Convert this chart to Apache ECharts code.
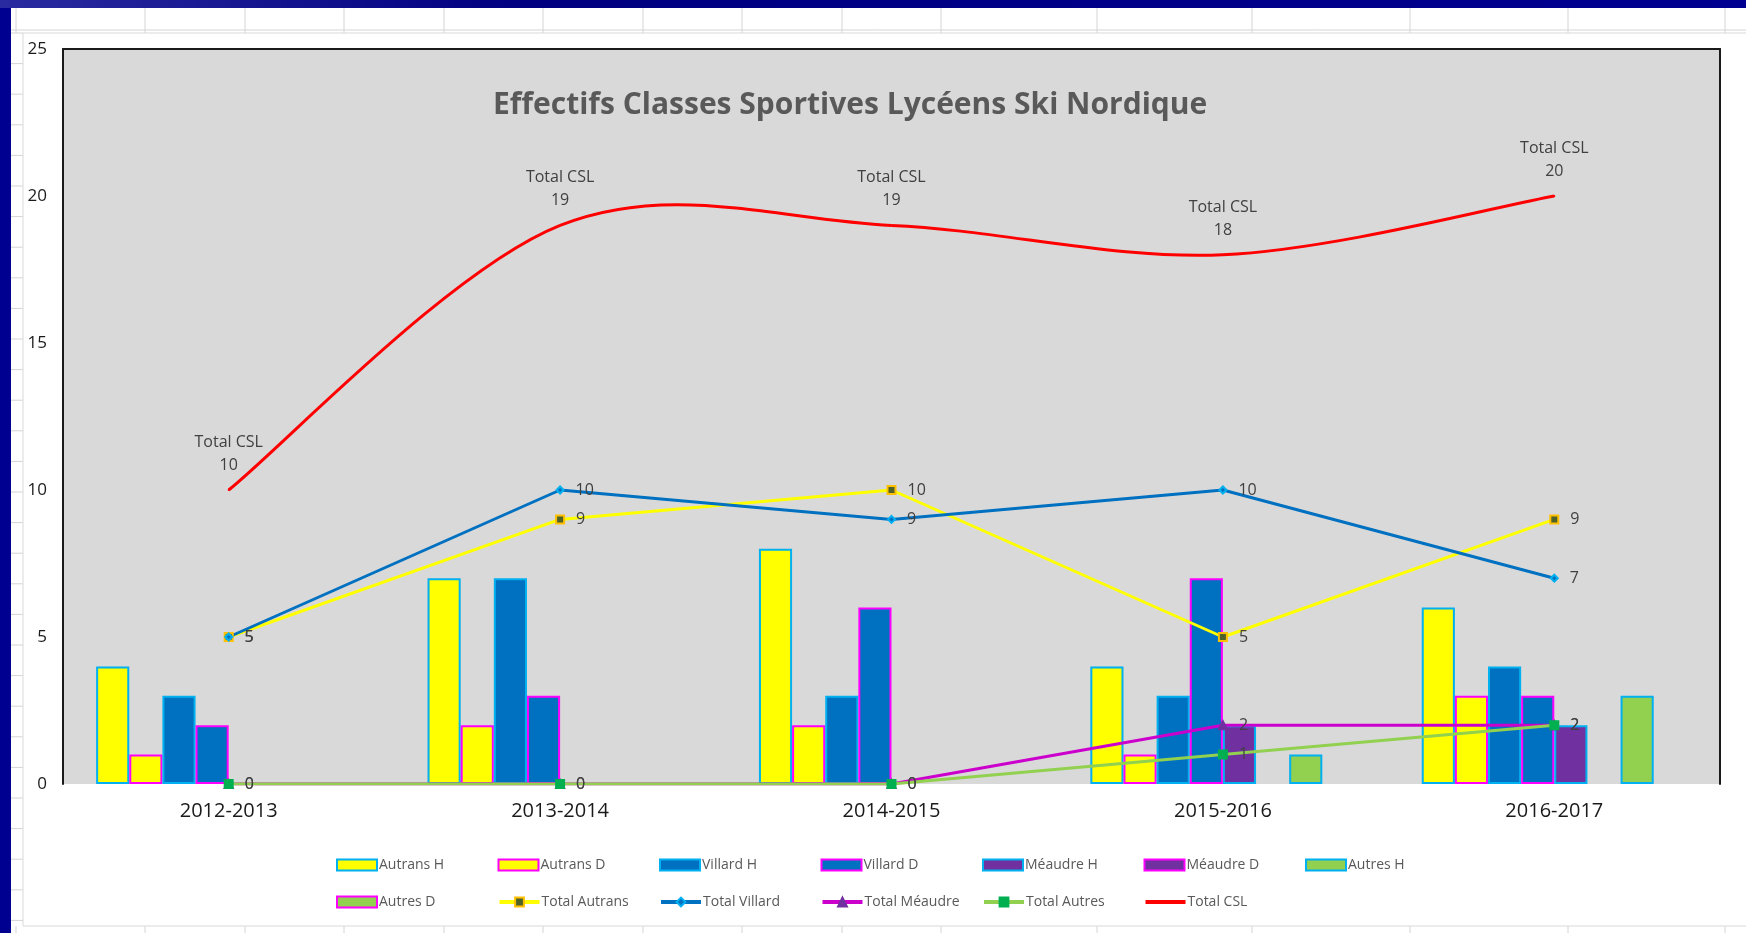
<!DOCTYPE html>
<html>
<head>
<meta charset="utf-8">
<title>Effectifs Classes Sportives Lycéens Ski Nordique</title>
<script src="https://cdn.jsdelivr.net/npm/echarts@6/dist/echarts.min.js"></script>
<style>
    html, body { margin: 0; padding: 0; background: #fff; }
    #chart { width: 1746px; height: 933px; }
</style>
</head>
<body>
<div id="chart"></div>
<script>
// saisons
var categories = ["2012-2013", "2013-2014", "2014-2015", "2015-2016", "2016-2017"];

// effectifs par site (H = garçons, D = filles)
var autransH = [4, 7, 8, 4, 6];
var autransD = [1, 2, 2, 1, 3];
var villardH = [3, 7, 3, 3, 4];
var villardD = [2, 3, 6, 7, 3];
var meaudreH = [0, 0, 0, 2, 2];
var meaudreD = [0, 0, 0, 0, 0];
var autresH = [0, 0, 0, 1, 3];
var autresD = [0, 0, 0, 0, 0];

// totaux
var totalAutrans = [5, 9, 10, 5, 9];
var totalVillard = [5, 10, 9, 10, 7];
var totalMeaudre = [0, 0, 0, 2, 2];
var totalAutres = [0, 0, 0, 1, 2];
var totalCSL = [10, 19, 19, 18, 20];

var yTicks = [0, 5, 10, 15, 20, 25];

var legendRow1 = ["Autrans H", "Autrans D", "Villard H", "Villard D", "Méaudre H", "Méaudre D", "Autres H"];
var legendRow2 = ["Autres D", "Total Autrans", "Total Villard", "Total Méaudre", "Total Autres", "Total CSL"];

var FONT = "Open Sans";
var YELLOW = "#FFFF00";
var BLUE = "#0070C0";
var PURPLE = "#7030A0";
var GREEN = "#92D050";
var CYAN = "#00B0F0";
var MAGENTA = "#FF00FF";
var RED = "#FF0000";

function bar(name, data, fill, border) {
    return {
        name: name,
        type: "bar",
        // une barre à 0 ne doit pas laisser de trait de bordure
        data: data.map(function(v) {
            return v === 0 ? { value: 0, itemStyle: { borderWidth: 0 } } : v;
        }),
        barGap: "0%",
        barCategoryGap: "20%",
        itemStyle: {
            color: fill,
            borderColor: border,
            borderWidth: 2
        }
    };
}

function total(name, data, color, symbol, size, mColor, mBorder) {
    return {
        name: name,
        type: "line",
        data: data,
        z: 5,
        symbol: symbol,
        symbolSize: size,
        lineStyle: { color: color, width: 3 },
        itemStyle: { color: mColor, borderColor: mBorder, borderWidth: 2 },
        label: {
            show: true,
            position: "right",
            distance: 11,
            color: "#404040",
            fontFamily: FONT,
            fontSize: 16
        }
    };
}

// courbe lissée façon Excel (Catmull-Rom) à partir des points du total
function smoothSegment(params, api) {
    var n = params.dataInsideLength;
    var i = params.dataIndexInside;
    if (i >= n - 1) {
        return;
    }
    function pt(j) {
        j = Math.max(0, Math.min(n - 1, j));
        return api.coord([api.value(0, j), api.value(1, j)]);
    }
    var p0 = pt(i - 1), p1 = pt(i), p2 = pt(i + 1), p3 = pt(i + 2);
    return {
        type: "bezierCurve",
        shape: {
            x1: p1[0], y1: p1[1],
            x2: p2[0], y2: p2[1],
            cpx1: p1[0] + (p2[0] - p0[0]) / 6,
            cpy1: p1[1] + (p2[1] - p0[1]) / 6,
            cpx2: p2[0] - (p3[0] - p1[0]) / 6,
            cpy2: p2[1] - (p3[1] - p1[1]) / 6
        },
        style: { stroke: RED, lineWidth: 3, fill: null }
    };
}

// quadrillage de la feuille Excel autour du graphique
var sheet = [];
[16, 145, 245, 344, 444, 543, 643, 742, 842, 941, 1097, 1252, 1410, 1568, 1725].forEach(function(x) {
    sheet.push({ type: "line", shape: { x1: x, y1: 8, x2: x, y2: 33 }, style: { stroke: "#D4D4D4", lineWidth: 1 } });
    sheet.push({ type: "line", shape: { x1: x, y1: 926, x2: x, y2: 933 }, style: { stroke: "#D4D4D4", lineWidth: 1 } });
});
for (var r = 0; r < 30; r++) {
    var yy = 33 + r * 30.6;
    sheet.push({ type: "line", shape: { x1: 11, y1: yy, x2: 23, y2: yy }, style: { stroke: "#D4D4D4", lineWidth: 1 } });
}
sheet.push({ type: "line", shape: { x1: 11, y1: 30, x2: 1746, y2: 30 }, style: { stroke: "#D4D4D4", lineWidth: 1 } });
sheet.push({ type: "rect", shape: { x: 23, y: 33, width: 1740, height: 893 }, style: { fill: "#fff", stroke: "#D9D9D9", lineWidth: 1 } });
sheet.push({ type: "rect", shape: { x: 0, y: 0, width: 11, height: 933 }, style: { fill: "#000090" } });
sheet.push({
    type: "rect",
    shape: { x: 0, y: 0, width: 1746, height: 8 },
    style: {
        fill: new echarts.graphic.LinearGradient(0, 0, 1, 0, [
            { offset: 0, color: "#2a2aa0" },
            { offset: 0.3, color: "#000080" },
            { offset: 1, color: "#000090" }
        ])
    }
});

// une légende par entrée pour garder le pas régulier d'Excel
function legendItem(item, k, top) {
    return {
        left: 331 + k * 161.5,
        top: top,
        itemWidth: 40,
        itemHeight: 11,
        textStyle: { fontFamily: FONT, fontSize: 14, color: "#595959", padding: [0, 0, 0, -3] },
        data: [item]
    };
}
var legends = [];
legendRow1.forEach(function(n, k) {
    legends.push(legendItem({ name: n, icon: "rect" }, k, 853));
});
legendRow2.forEach(function(n, k) {
    var item;
    if (n === "Autres D") {
        item = { name: n, icon: "rect" };
    } else if (n === "Total CSL") {
        item = { name: n, itemStyle: { opacity: 0 }, lineStyle: { color: RED, width: 4, opacity: 1 } };
    } else {
        item = { name: n, lineStyle: { width: 4 } };
    }
    legends.push(legendItem(item, k, 890));
});

var chart = echarts.init(document.getElementById("chart"));

chart.setOption({
    backgroundColor: "#fff",
    animation: false,
    graphic: sheet.map(function(g) { g.z = -10; g.silent = true; return g; }),
    title: {
        text: "Effectifs Classes Sportives Lycéens Ski Nordique",
        left: 488,
        top: 85,
        textStyle: {
            fontFamily: FONT,
            fontSize: 30,
            fontWeight: "bold",
            color: "#595959"
        }
    },
    grid: {
        left: 63,
        right: 26,
        top: 49,
        bottom: 149,
        show: true,
        backgroundColor: "#D9D9D9",
        borderWidth: 0
    },
    legend: legends,
    xAxis: [
        {
            type: "category",
            data: categories,
            axisTick: { show: false },
            axisLine: { show: false },
            axisLabel: { color: "#1a1a1a", fontFamily: FONT, fontSize: 20, margin: 17 }
        },
        {
            type: "category",
            data: categories,
            position: "top",
            axisTick: { show: false },
            axisLabel: { show: false },
            axisLine: { show: true, onZero: false, lineStyle: { color: "#1a1a1a", width: 2 } }
        }
    ],
    yAxis: [
        {
            type: "value",
            min: yTicks[0],
            max: yTicks[yTicks.length - 1],
            interval: 5,
            splitLine: { show: false },
            axisLine: { show: true, lineStyle: { color: "#1a1a1a", width: 2 } },
            axisLabel: { color: "#1a1a1a", fontFamily: FONT, fontSize: 17, margin: 16 }
        },
        {
            type: "value",
            min: 0,
            max: 25,
            position: "right",
            splitLine: { show: false },
            axisLabel: { show: false },
            axisTick: { show: false },
            axisLine: { show: true, onZero: false, lineStyle: { color: "#1a1a1a", width: 2 } }
        }
    ],
    series: [
        bar("Autrans H", autransH, YELLOW, CYAN),
        bar("Autrans D", autransD, YELLOW, MAGENTA),
        bar("Villard H", villardH, BLUE, CYAN),
        bar("Villard D", villardD, BLUE, MAGENTA),
        bar("Méaudre H", meaudreH, PURPLE, CYAN),
        bar("Méaudre D", meaudreD, PURPLE, MAGENTA),
        bar("Autres H", autresH, GREEN, CYAN),
        bar("Autres D", autresD, GREEN, MAGENTA),
        total("Total Autrans", totalAutrans, YELLOW, "rect", 8, "#4F6228", "#FFC000"),
        total("Total Villard", totalVillard, BLUE, "diamond", 7, BLUE, CYAN),
        total("Total Méaudre", totalMeaudre, "#CC00CC", "triangle", 8, PURPLE, PURPLE),
        total("Total Autres", totalAutres, GREEN, "rect", 8, "#00B050", "#00B050"),
        {
            // points + étiquettes du total ; la courbe est tracée par la série suivante
            name: "Total CSL",
            type: "line",
            data: totalCSL,
            z: 6,
            symbol: "circle",
            symbolSize: 2,
            lineStyle: { color: RED, width: 3, opacity: 0 },
            itemStyle: { color: RED },
            label: {
                show: true,
                position: "top",
                distance: 12,
                color: "#404040",
                fontFamily: FONT,
                fontSize: 16,
                lineHeight: 23,
                formatter: function(p) {
                    return p.seriesName + "\n" + p.value;
                }
            }
        },
        {
            name: "Total CSL (courbe)",
            type: "custom",
            z: 6,
            data: totalCSL.map(function(v, i) { return [i, v]; }),
            encode: { x: 0, y: 1 },
            renderItem: smoothSegment
        }
    ]
});
</script>
</body>
</html>
